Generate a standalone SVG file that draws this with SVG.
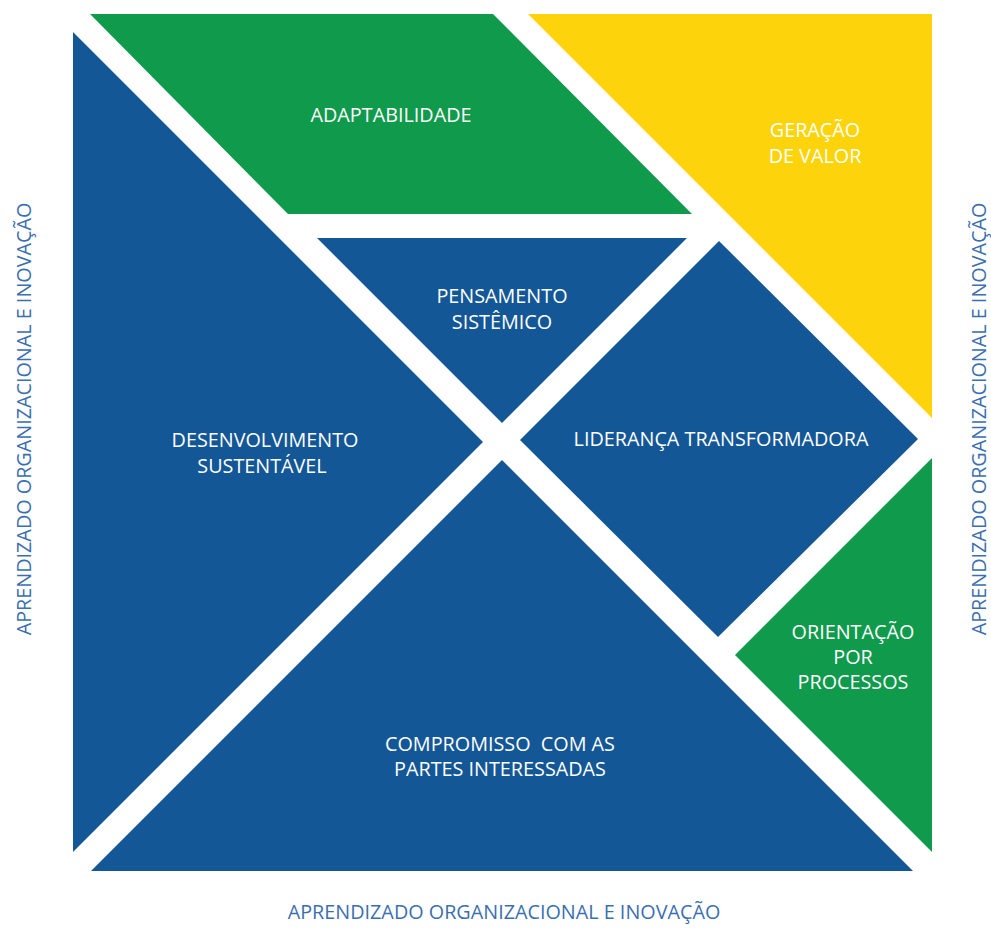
<svg xmlns="http://www.w3.org/2000/svg" width="991" height="931" viewBox="0 0 991 931">
  <style>
    .blue { fill: #145797; }
    .green { fill: #0f9a4c; }
    .yellow { fill: #fdd40b; }
    .lbl { font-family: "Open Sans", "Liberation Sans", sans-serif; font-size: 19.8px; fill: #ffffff; text-anchor: middle; }
    .axis { font-family: "Open Sans", "Liberation Sans", sans-serif; font-size: 19.8px; fill: #3b6fb0; text-anchor: middle; }
  </style>
  <rect width="991" height="931" fill="#ffffff"/>

  <g id="adaptabilidade">
    <polygon class="green" points="90,14 493,14 692,214 288,214"/>
    <text class="lbl" x="391" y="122">ADAPTABILIDADE</text>
  </g>

  <g id="geracao-de-valor">
    <polygon class="yellow" points="528,14 932,14 932,418"/>
    <text class="lbl" x="815" y="137">GERAÇÃO</text>
    <text class="lbl" x="815" y="163">DE VALOR</text>
  </g>

  <g id="pensamento-sistemico">
    <polygon class="blue" points="317,238 687,238 502,423"/>
    <text class="lbl" x="502" y="303">PENSAMENTO</text>
    <text class="lbl" x="502" y="329">SISTÊMICO</text>
  </g>

  <g id="desenvolvimento-sustentavel">
    <polygon class="blue" points="73,32 483,442 73,852"/>
    <text class="lbl" x="265" y="447">DESENVOLVIMENTO</text>
    <text class="lbl" x="262" y="473">SUSTENTÁVEL</text>
  </g>

  <g id="lideranca-transformadora">
    <polygon class="blue" points="520,440 719,241 918,439 718,637"/>
    <text class="lbl" x="721" y="446">LIDERANÇA TRANSFORMADORA</text>
  </g>

  <g id="orientacao-por-processos">
    <polygon class="green" points="932,458 932,852 735,655"/>
    <text class="lbl" x="853" y="639">ORIENTAÇÃO</text>
    <text class="lbl" x="853" y="664">POR</text>
    <text class="lbl" x="853" y="689">PROCESSOS</text>
  </g>

  <g id="compromisso-partes-interessadas">
    <polygon class="blue" points="502,460 913,871 91,871"/>
    <text class="lbl" x="500" y="751" xml:space="preserve">COMPROMISSO  COM AS</text>
    <text class="lbl" x="500" y="776">PARTES INTERESSADAS</text>
  </g>

  <g id="axis-labels">
    <text class="axis" x="504" y="919">APRENDIZADO ORGANIZACIONAL E INOVAÇÃO</text>
    <text class="axis" transform="translate(31,419) rotate(-90)">APRENDIZADO ORGANIZACIONAL E INOVAÇÃO</text>
    <text class="axis" transform="translate(986,419) rotate(-90)">APRENDIZADO ORGANIZACIONAL E INOVAÇÃO</text>
  </g>

  <g id="connectors"></g>
</svg>
